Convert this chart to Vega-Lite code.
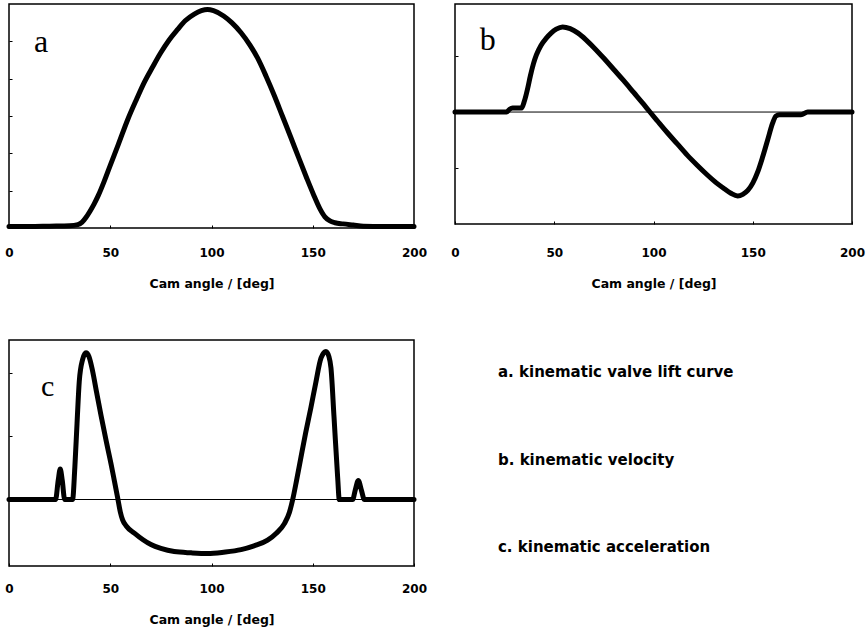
{
  "$schema": "https://vega.github.io/schema/vega-lite/v6.json",
  "padding": {"left": 4, "top": 3, "right": 0, "bottom": 0},
  "background": "white",
  "config": {
    "view": {"stroke": "black", "strokeWidth": 1.5},
    "axis": {
      "domain": false,
      "grid": false,
      "ticks": true,
      "tickColor": "black",
      "tickWidth": 1,
      "tickSize": -3,
      "labelFont": "DejaVu Sans",
      "labelFontWeight": "bold",
      "labelFontSize": 12,
      "labelColor": "black",
      "labelFlush": false,
      "titleFont": "DejaVu Sans",
      "titleFontWeight": "bold",
      "titleFontSize": 12.5,
      "titleColor": "black"
    }
  },
  "datasets": {
    "lift": [
      {"angle": 0, "value": 0.04}, {"angle": 10, "value": 0.04}, {"angle": 20, "value": 0.05}, {"angle": 30, "value": 0.06},
      {"angle": 34, "value": 0.09}, {"angle": 36, "value": 0.15}, {"angle": 38, "value": 0.28}, {"angle": 40, "value": 0.45},
      {"angle": 42, "value": 0.64}, {"angle": 44, "value": 0.86}, {"angle": 47, "value": 1.25}, {"angle": 50, "value": 1.68},
      {"angle": 54, "value": 2.24}, {"angle": 58.6, "value": 2.9}, {"angle": 63, "value": 3.45}, {"angle": 66.8, "value": 3.9},
      {"angle": 71, "value": 4.32}, {"angle": 75, "value": 4.7}, {"angle": 79, "value": 5.03}, {"angle": 83.3, "value": 5.32},
      {"angle": 87, "value": 5.55}, {"angle": 91.5, "value": 5.73}, {"angle": 95, "value": 5.82}, {"angle": 98, "value": 5.85},
      {"angle": 101, "value": 5.82}, {"angle": 106, "value": 5.68}, {"angle": 110, "value": 5.5}, {"angle": 114.6, "value": 5.23},
      {"angle": 119, "value": 4.9}, {"angle": 122.8, "value": 4.55}, {"angle": 127, "value": 4.06}, {"angle": 131, "value": 3.55},
      {"angle": 135, "value": 3.0}, {"angle": 139, "value": 2.45}, {"angle": 143, "value": 1.89}, {"angle": 147, "value": 1.34},
      {"angle": 150.5, "value": 0.88}, {"angle": 153.5, "value": 0.52}, {"angle": 156, "value": 0.3}, {"angle": 158.5, "value": 0.19},
      {"angle": 161, "value": 0.14}, {"angle": 165, "value": 0.11}, {"angle": 170, "value": 0.08}, {"angle": 175, "value": 0.05},
      {"angle": 185, "value": 0.04}, {"angle": 200, "value": 0.04}
    ],
    "velocity": [
      {"angle": 0, "value": 0}, {"angle": 26, "value": 0}, {"angle": 27.5, "value": 0.05}, {"angle": 29, "value": 0.07},
      {"angle": 33.5, "value": 0.07}, {"angle": 35, "value": 0.2}, {"angle": 36.6, "value": 0.42}, {"angle": 38, "value": 0.65},
      {"angle": 39.5, "value": 0.86}, {"angle": 41, "value": 1.02}, {"angle": 43.3, "value": 1.19}, {"angle": 46, "value": 1.32},
      {"angle": 48.4, "value": 1.41}, {"angle": 51, "value": 1.48}, {"angle": 54.2, "value": 1.52}, {"angle": 58, "value": 1.49},
      {"angle": 62, "value": 1.41}, {"angle": 66, "value": 1.29}, {"angle": 70, "value": 1.15}, {"angle": 75, "value": 0.96},
      {"angle": 80, "value": 0.76}, {"angle": 85, "value": 0.56}, {"angle": 90, "value": 0.35}, {"angle": 95, "value": 0.14},
      {"angle": 98, "value": 0.01}, {"angle": 102, "value": -0.16}, {"angle": 107, "value": -0.37}, {"angle": 112, "value": -0.57},
      {"angle": 117, "value": -0.77}, {"angle": 122, "value": -0.95}, {"angle": 127, "value": -1.12}, {"angle": 131.5, "value": -1.26},
      {"angle": 135.7, "value": -1.37}, {"angle": 139, "value": -1.45}, {"angle": 142.4, "value": -1.5}, {"angle": 145, "value": -1.47},
      {"angle": 147.5, "value": -1.4}, {"angle": 150, "value": -1.27}, {"angle": 152.5, "value": -1.07}, {"angle": 155, "value": -0.8},
      {"angle": 157.5, "value": -0.5}, {"angle": 160, "value": -0.2}, {"angle": 161.7, "value": -0.07}, {"angle": 163.4, "value": -0.05},
      {"angle": 174.3, "value": -0.05}, {"angle": 177.7, "value": 0}, {"angle": 200, "value": 0}
    ],
    "acceleration": [
      {"angle": 0, "value": 0}, {"angle": 23, "value": 0}, {"angle": 24.3, "value": 0.3}, {"angle": 25.3, "value": 0.48},
      {"angle": 26.3, "value": 0.3}, {"angle": 27.5, "value": 0}, {"angle": 31.4, "value": 0}, {"angle": 32.5, "value": 0.5},
      {"angle": 33.6, "value": 1.2}, {"angle": 34.7, "value": 1.86}, {"angle": 36.3, "value": 2.2}, {"angle": 38, "value": 2.31},
      {"angle": 39.5, "value": 2.25}, {"angle": 41.3, "value": 2.02}, {"angle": 43.3, "value": 1.68}, {"angle": 45.4, "value": 1.33},
      {"angle": 48, "value": 0.92}, {"angle": 50.4, "value": 0.56}, {"angle": 52, "value": 0.3}, {"angle": 53.7, "value": 0.02},
      {"angle": 55, "value": -0.2}, {"angle": 56.1, "value": -0.32}, {"angle": 58, "value": -0.42}, {"angle": 61.9, "value": -0.53},
      {"angle": 66, "value": -0.63}, {"angle": 70.1, "value": -0.71}, {"angle": 75, "value": -0.77}, {"angle": 81.6, "value": -0.82},
      {"angle": 90, "value": -0.84}, {"angle": 98.1, "value": -0.85}, {"angle": 106, "value": -0.83}, {"angle": 114.6, "value": -0.79},
      {"angle": 121, "value": -0.73}, {"angle": 127.7, "value": -0.64}, {"angle": 132, "value": -0.53}, {"angle": 136, "value": -0.38},
      {"angle": 138.5, "value": -0.2}, {"angle": 140.1, "value": 0}, {"angle": 142, "value": 0.3}, {"angle": 144.2, "value": 0.67},
      {"angle": 146.5, "value": 1.05}, {"angle": 149.1, "value": 1.45}, {"angle": 151.5, "value": 1.84}, {"angle": 154.1, "value": 2.23},
      {"angle": 156.5, "value": 2.33}, {"angle": 158, "value": 2.25}, {"angle": 159, "value": 2.07}, {"angle": 160.5, "value": 1.3},
      {"angle": 162.3, "value": 0.35}, {"angle": 163.1, "value": 0}, {"angle": 169.7, "value": 0}, {"angle": 171, "value": 0.15},
      {"angle": 172.5, "value": 0.3}, {"angle": 174, "value": 0.15}, {"angle": 175.5, "value": 0}, {"angle": 200, "value": 0}
    ],
    "captions": [
      {"label": "a. kinematic valve lift curve"},
      {"label": "b. kinematic velocity"},
      {"label": "c. kinematic acceleration"}
    ]
  },
  "bounds": "flush",
  "columns": 2,
  "spacing": {"row": 112, "column": 41},
  "concat": [
    {
      "width": 405,
      "height": 224,
      "layer": [
        {
          "data": {"name": "lift"},
          "mark": {"type": "line", "color": "black", "strokeWidth": 5, "strokeCap": "round", "strokeJoin": "round", "interpolate": "monotone"},
          "encoding": {
            "x": {"field": "angle", "type": "quantitative", "scale": {"domain": [0, 200], "nice": false},
                  "axis": {"values": [0, 50, 100, 150, 200], "labelPadding": 22, "title": "Cam angle / [deg]", "titlePadding": 19}},
            "y": {"field": "value", "type": "quantitative", "scale": {"domain": [0, 6], "nice": false},
                  "axis": {"values": [1, 2, 3, 4, 5], "labels": false, "title": null}}
          }
        },
        {
          "data": {"values": [{}]},
          "mark": {"type": "text", "text": "a", "font": "Liberation Serif", "fontSize": 32, "align": "center", "baseline": "alphabetic", "color": "black"},
          "encoding": {
            "x": {"datum": 15.8, "type": "quantitative"},
            "y": {"datum": 4.72, "type": "quantitative"}
          }
        }
      ]
    },
    {
      "width": 397,
      "height": 220,
      "layer": [
        {
          "data": {"values": [{}]},
          "mark": {"type": "rule", "color": "black", "strokeWidth": 1},
          "encoding": {"y": {"datum": 0, "type": "quantitative"}}
        },
        {
          "data": {"name": "velocity"},
          "mark": {"type": "line", "color": "black", "strokeWidth": 5, "strokeCap": "round", "strokeJoin": "round", "interpolate": "monotone"},
          "encoding": {
            "x": {"field": "angle", "type": "quantitative", "scale": {"domain": [0, 200], "nice": false},
                  "axis": {"values": [0, 50, 100, 150, 200], "labelPadding": 26, "title": "Cam angle / [deg]", "titlePadding": 19}},
            "y": {"field": "value", "type": "quantitative", "scale": {"domain": [-2, 1.93], "nice": false, "zero": false},
                  "axis": {"values": [-1, 1], "labels": false, "title": null}}
          }
        },
        {
          "data": {"values": [{}]},
          "mark": {"type": "text", "text": "b", "font": "Liberation Serif", "fontSize": 32, "align": "center", "baseline": "alphabetic", "color": "black"},
          "encoding": {
            "x": {"datum": 16.5, "type": "quantitative"},
            "y": {"datum": 1.11, "type": "quantitative"}
          }
        }
      ]
    },
    {
      "width": 405,
      "height": 226,
      "layer": [
        {
          "data": {"values": [{}]},
          "mark": {"type": "rule", "color": "black", "strokeWidth": 1},
          "encoding": {"y": {"datum": 0, "type": "quantitative"}}
        },
        {
          "data": {"name": "acceleration"},
          "mark": {"type": "line", "color": "black", "strokeWidth": 5, "strokeCap": "round", "strokeJoin": "round", "interpolate": "monotone"},
          "encoding": {
            "x": {"field": "angle", "type": "quantitative", "scale": {"domain": [0, 200], "nice": false},
                  "axis": {"values": [0, 50, 100, 150, 200], "labelPadding": 20, "title": "Cam angle / [deg]", "titlePadding": 19}},
            "y": {"field": "value", "type": "quantitative", "scale": {"domain": [-1.047, 2.512], "nice": false, "zero": false},
                  "axis": {"values": [1, 2], "labels": false, "title": null}}
          }
        },
        {
          "data": {"values": [{}]},
          "mark": {"type": "text", "text": "c", "font": "Liberation Serif", "fontSize": 30, "align": "center", "baseline": "alphabetic", "color": "black"},
          "encoding": {
            "x": {"datum": 19.1, "type": "quantitative"},
            "y": {"datum": 1.63, "type": "quantitative"}
          }
        }
      ]
    },
    {
      "width": 397,
      "height": 239,
      "view": {"stroke": null},
      "data": {"name": "captions"},
      "mark": {"type": "text", "font": "DejaVu Sans", "fontWeight": "bold", "fontSize": 15, "align": "left", "baseline": "middle", "color": "black"},
      "encoding": {
        "text": {"field": "label"},
        "x": {"datum": 0, "type": "quantitative", "scale": {"domain": [-0.1214, 1], "nice": false, "zero": false}, "axis": null},
        "y": {"field": "label", "type": "nominal", "sort": null, "scale": {"type": "point", "padding": 0.366}, "axis": null}
      }
    }
  ]
}
